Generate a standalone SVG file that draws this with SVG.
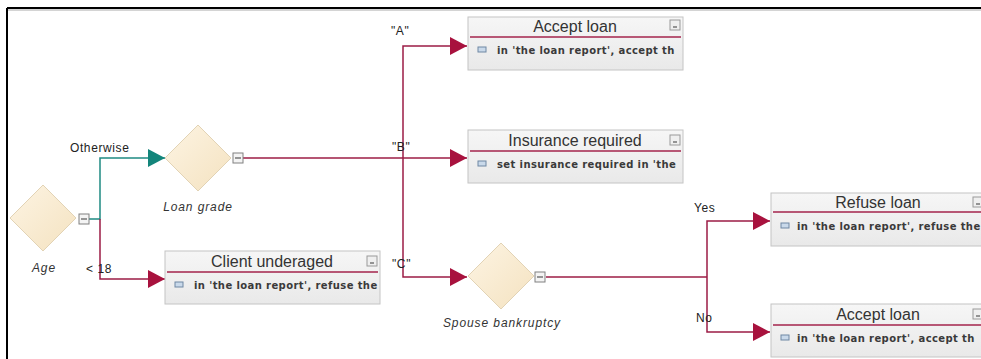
<svg xmlns="http://www.w3.org/2000/svg" width="981" height="359" viewBox="0 0 981 359">
<style>
.lbl{font-family:"Liberation Sans",Arial,sans-serif;font-size:12px;fill:#222;letter-spacing:0.6px}
.dlbl{font-family:"Liberation Sans",Arial,sans-serif;font-size:12px;font-style:italic;fill:#333;letter-spacing:0.9px;text-anchor:middle}
.title{font-family:"Liberation Sans",Arial,sans-serif;font-size:16px;fill:#333;text-anchor:middle}
.body{font-family:"DejaVu Sans",Verdana,sans-serif;font-size:10px;font-weight:bold;fill:#3a3a3a;letter-spacing:0.4px}
.box{fill:url(#boxg);stroke:#c4c4c4;stroke-width:1}
.hdr{stroke:#a3234b;stroke-width:1.6}
.dia{fill:url(#diag);stroke:#e2d3b5;stroke-width:1}
.mini{fill:#efefef;stroke:#9a9a9a;stroke-width:1}
.dash{stroke:#555;stroke-width:1.2}
.icon{fill:#c9d9ea;stroke:#6f87a3;stroke-width:1}
.tog{fill:#f4f4f4;stroke:#808080;stroke-width:1}
.cr{fill:none;stroke:#9c1c45;stroke-width:1.5}
.tl{fill:none;stroke:#1f8a83;stroke-width:1.5}
</style>
<defs>
<linearGradient id="boxg" x1="0" y1="0" x2="0" y2="1">
<stop offset="0" stop-color="#f6f6f6"/><stop offset="1" stop-color="#e9e9e9"/>
</linearGradient>
<linearGradient id="diag" x1="0" y1="0" x2="1" y2="1">
<stop offset="0" stop-color="#fdf4e3"/><stop offset="1" stop-color="#f4e2c0"/>
</linearGradient>
<marker id="ac" markerUnits="userSpaceOnUse" markerWidth="18" markerHeight="18" refX="17" refY="9" orient="auto">
<path d="M0,0 L17,9 L0,18 z" fill="#a8123e"/>
</marker>
<marker id="at" markerUnits="userSpaceOnUse" markerWidth="18" markerHeight="18" refX="17" refY="9" orient="auto">
<path d="M0,0 L17,9 L0,18 z" fill="#13857b"/>
</marker>
</defs>
<rect x="0" y="0" width="981" height="359" fill="#ffffff"/>
<g id="frame">
<line x1="7" y1="8" x2="981" y2="8" stroke="#000" stroke-width="2"/>
<line x1="7" y1="8" x2="7" y2="359" stroke="#000" stroke-width="2"/>
<line x1="8" y1="10" x2="981" y2="10" stroke="#aaa" stroke-width="1"/>
</g>

<g id="connectors">
<polyline class="tl" points="89,219 100,219 100,158 165,158" marker-end="url(#at)"/>
<polyline class="cr" points="100,219 100,279 165,279" marker-end="url(#ac)"/>
<polyline class="cr" points="243,158 467,158" marker-end="url(#ac)"/>
<polyline class="cr" points="403,158 403,46 467,46" marker-end="url(#ac)"/>
<polyline class="cr" points="403,158 403,277 467,277" marker-end="url(#ac)"/>
<polyline class="cr" points="546,277 707,277"/>
<polyline class="cr" points="707,277 707,221 770,221" marker-end="url(#ac)"/>
<polyline class="cr" points="707,277 707,332 770,332" marker-end="url(#ac)"/>
<text class="lbl" x="70" y="152">Otherwise</text>
<text class="lbl" x="86" y="273">&lt; 18</text>
<text class="lbl" x="391" y="35">"A"</text>
<text class="lbl" x="392" y="151">"B"</text>
<text class="lbl" x="392" y="268">"C"</text>
<text class="lbl" x="694" y="212">Yes</text>
<text class="lbl" x="696" y="322">No</text>
</g>

<g id="age">
<polygon class="dia" points="43,185 76,218 43,251 10,218"/>
<rect class="tog" x="79" y="214" width="10" height="10"/>
<line class="dash" x1="81" y1="219" x2="87" y2="219"/>
<text class="dlbl" x="44" y="272">Age</text>
</g>

<g id="loan-grade">
<polygon class="dia" points="198,125 231,158 198,191 165,158"/>
<rect class="tog" x="233" y="153" width="10" height="10"/>
<line class="dash" x1="235" y1="158" x2="241" y2="158"/>
<text class="dlbl" x="198" y="211">Loan grade</text>
</g>

<g id="spouse-bankruptcy">
<polygon class="dia" points="501,243 534,276 501,309 468,276"/>
<rect class="tog" x="535" y="272" width="10" height="10"/>
<line class="dash" x1="537" y1="277" x2="543" y2="277"/>
<text class="dlbl" x="502" y="327">Spouse bankruptcy</text>
</g>

<g id="accept-loan-a">
<rect class="box" x="468" y="17" width="215" height="53"/>
<line class="hdr" x1="470" y1="37" x2="681" y2="37"/>
<text class="title" x="575" y="32">Accept loan</text>
<rect class="mini" x="670" y="20" width="10" height="10"/>
<line class="dash" x1="673" y1="27" x2="677" y2="27"/>
<rect class="icon" x="478" y="47" width="8" height="5"/>
<text class="body" x="497" y="54">in 'the loan report', accept th</text>
</g>

<g id="insurance-required">
<rect class="box" x="468" y="130" width="215" height="53"/>
<line class="hdr" x1="470" y1="151" x2="681" y2="151"/>
<text class="title" x="575" y="146">Insurance required</text>
<rect class="mini" x="670" y="135" width="10" height="10"/>
<line class="dash" x1="673" y1="142" x2="677" y2="142"/>
<rect class="icon" x="478" y="161" width="8" height="5"/>
<text class="body" x="497" y="168">set insurance required in 'the</text>
</g>

<g id="client-underaged">
<rect class="box" x="165" y="251" width="215" height="53"/>
<line class="hdr" x1="167" y1="272" x2="378" y2="272"/>
<text class="title" x="272" y="267">Client underaged</text>
<rect class="mini" x="367" y="256" width="10" height="10"/>
<line class="dash" x1="370" y1="263" x2="374" y2="263"/>
<rect class="icon" x="175" y="282" width="8" height="5"/>
<text class="body" x="194" y="289">in 'the loan report', refuse the</text>
</g>

<g id="refuse-loan">
<rect class="box" x="771" y="193" width="215" height="53"/>
<line class="hdr" x1="773" y1="212" x2="984" y2="212"/>
<text class="title" x="878" y="208">Refuse loan</text>
<rect class="mini" x="973" y="197" width="10" height="10"/>
<line class="dash" x1="976" y1="204" x2="980" y2="204"/>
<rect class="icon" x="781" y="223" width="8" height="5"/>
<text class="body" x="797" y="230">in 'the loan report', refuse the</text>
</g>

<g id="accept-loan-c">
<rect class="box" x="771" y="304" width="215" height="53"/>
<line class="hdr" x1="773" y1="325" x2="984" y2="325"/>
<text class="title" x="878" y="320">Accept loan</text>
<rect class="mini" x="973" y="309" width="10" height="10"/>
<line class="dash" x1="976" y1="316" x2="980" y2="316"/>
<rect class="icon" x="781" y="335" width="8" height="5"/>
<text class="body" x="797" y="342">in 'the loan report', accept th</text>
</g>
</svg>
